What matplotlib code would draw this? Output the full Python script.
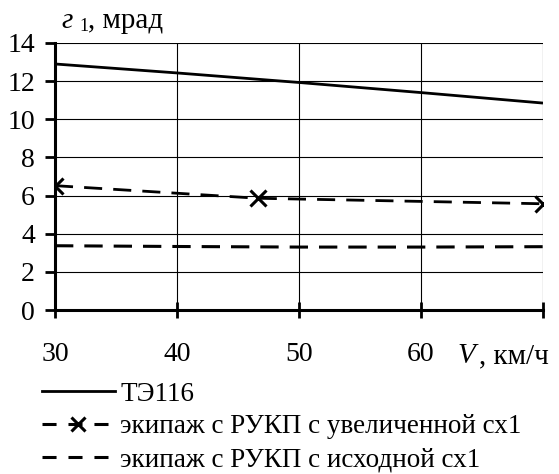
import matplotlib
matplotlib.use("Agg")
import matplotlib.pyplot as plt
from matplotlib.lines import Line2D

plt.rcParams['font.family'] = ['Liberation Serif', 'DejaVu Serif']

# data
v_te116 = [30, 40, 50, 60, 70]
g_te116 = [12.9, 12.43, 11.93, 11.4, 10.85]

v_inc = [30, 46.6, 70]
g_inc = [6.52, 5.86, 5.57]

v_base = [30, 40, 50, 60, 70]
g_base = [3.37, 3.33, 3.30, 3.30, 3.32]

x_ticks = [30, 40, 50, 60, 70]
x_labels = ['30', '40', '50', '60', '']
y_ticks = [0, 2, 4, 6, 8, 10, 12, 14]

labels = ['ТЭ116', 'экипаж с РУКП с увеличенной сх1', 'экипаж с РУКП с исходной сх1']

fig = plt.figure(figsize=(5.59, 4.74), dpi=100)
ax = fig.add_axes([55/559, 1 - 310/474, (543-55)/559, (310-43)/474])

ax.plot(v_te116, g_te116, color='black', lw=2.0, solid_capstyle='butt')
ax.plot(v_inc, g_inc, color='black', lw=2.0, dashes=(6.5, 4), marker='x',
        markersize=12, markeredgewidth=2.2)
ax.plot(v_base, g_base, color='black', lw=2.2, dashes=(6, 3.6))

ax.set_xlim(30, 70)
ax.set_ylim(0, 14)
ax.set_xticks(x_ticks)
ax.set_xticklabels(x_labels)
ax.set_yticks(y_ticks)
ax.grid(True, color='black', lw=0.8)
ax.set_axisbelow(True)

for s in ['top', 'right']:
    ax.spines[s].set_visible(False)
ax.spines['left'].set_linewidth(2.2)
ax.spines['bottom'].set_linewidth(2.2)
ax.tick_params(axis='y', direction='out', length=7.5, width=2, labelsize=20, pad=7)
ax.tick_params(axis='x', direction='inout', length=12, width=2, labelsize=20, pad=17)

# axis titles
fig.text(61/559, 1 - 28/474, 'г', fontsize=21, style='italic', va='baseline')
fig.text(79/559, 1 - 31/474, '1', fontsize=13, va='baseline')
fig.text(88/559, 1 - 28/474, ', мрад', fontsize=21, va='baseline')
fig.text(457/559, 1 - 363/474, 'V', fontsize=21, style='italic', va='baseline')
fig.text(479/559, 1 - 363/474, ', км/ч', fontsize=21, va='baseline')

handles = [
    Line2D([], [], color='black', lw=2),
    Line2D([], [], color='black', lw=2.2, dashes=(4.6, 3.9), marker='x', markersize=10, markeredgewidth=2.2),
    Line2D([], [], color='black', lw=2.2, dashes=(4.6, 3.9)),
]
fig.legend(handles, labels, loc='upper left', bbox_to_anchor=(31/559, 1 - 371/474),
           frameon=False, fontsize=19.5, handlelength=2.7, handletextpad=0.2,
           labelspacing=0.28, borderaxespad=0)

fig.savefig('out.png', dpi=100)
